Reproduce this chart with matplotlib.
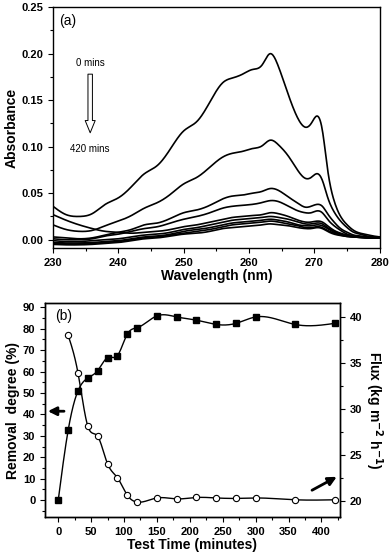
import matplotlib
matplotlib.use("Agg")
import matplotlib.pyplot as plt
import numpy as np
from matplotlib.patches import FancyArrowPatch
from matplotlib.ticker import MultipleLocator

plt.rcParams['font.family'] = ['Liberation Sans', 'DejaVu Sans']
plt.rcParams['font.weight'] = 'bold'
plt.rcParams['mathtext.default'] = 'bf'

# ---- panel (a): UV spectra, 0 -> 420 mins ----
wavelength = [230, 232, 234, 236, 238, 240, 242, 244, 246, 248, 250, 252, 254, 256, 257.5,
              259, 260.5, 262, 263.2, 264.5, 266, 267.5, 268.6, 269.5, 270.4, 271.2, 272,
              273, 274, 275, 276, 277, 278, 279, 280]

abs_a = [.036, .027, .025, .028, .038, .045, .057, .071, .080, .098, .117, .127, .148, .169, .174,
         .178, .183, .188, .200, .186, .156, .130, .121, .125, .133, .118, .076,
         .042, .025, .016, .010, .007, .0055, .004, .003]
abs_b = [.016, .011, .009, .010, .015, .020, .026, .034, .040, .049, .060, .067, .078, .089, .093,
         .095, .098, .101, .107, .102, .090, .074, .066, .067, .071, .064, .046,
         .030, .020, .013, .008, .006, .004, .003, .0025]
abs_c = [.003, .002, .001, .002, .005, .008, .011, .016, .018, .023, .029, .032, .037, .044, .047,
         .048, .050, .052, .055, .053, .046, .039, .035, .036, .038, .036, .028,
         .019, .012, .008, .005, .004, .003, .0025, .002]
abs_d = [.001, .000, .000, .001, .004, .006, .009, .012, .014, .018, .022, .025, .029, .034, .036,
         .037, .038, .040, .042, .041, .036, .031, .029, .029, .031, .029, .022,
         .015, .010, .006, .004, .003, .0025, .002, .002]
abs_e = [.027, .021, .016, .012, .009, .008, .007, .008, .009, .011, .014, .016, .019, .022, .024,
         .025, .026, .027, .029, .028, .025, .021, .019, .019, .020, .019, .015,
         .010, .007, .005, .004, .003, .0025, .002, .002]
abs_f = [-.001, -.002, -.002, -.001, .000, .001, .003, .005, .006, .008, .011, .013, .016, .019, .021,
         .022, .023, .024, .025, .024, .022, .019, .017, .017, .018, .017, .013,
         .009, .006, .0045, .0035, .003, .0025, .002, .002]
abs_g = [-.003, -.0035, -.0035, -.003, -.002, -.001, .001, .003, .004, .006, .009, .011, .013, .016, .018,
         .019, .020, .021, .022, .021, .019, .016, .015, .015, .016, .015, .012,
         .008, .0055, .004, .003, .0025, .002, .002, .002]
abs_h = [-.004, -.0045, -.0045, -.004, -.003, -.002, .000, .002, .003, .005, .007, .009, .011, .014, .016,
         .017, .018, .019, .020, .019, .017, .015, .013, .013, .014, .013, .010,
         .007, .005, .0035, .003, .0025, .002, .002, .002]
abs_i = [-.005, -.0055, -.0055, -.005, -.004, -.003, -.001, .001, .002, .004, .006, .007, .009, .012, .013,
         .014, .015, .016, .017, .016, .015, .013, .012, .012, .013, .012, .009,
         .006, .0045, .0035, .003, .0025, .002, .002, .002]

# ---- panel (b): removal degree and flux vs time ----
time_min = [0, 15, 30, 45, 60, 75, 90, 105, 120, 150, 180, 210, 240, 270, 300, 360, 420]
removal = [0, 32.5, 51, 57, 60.5, 66.5, 67.5, 77.5, 80.5, 86, 85.5, 84, 82, 82.5, 85.5, 82, 82.5]
flux_time = [15, 30, 45, 60, 75, 90, 105, 120, 150, 180, 210, 240, 270, 300, 360, 420]
flux = [38.0, 33.9, 28.1, 27.0, 24.0, 22.5, 20.6, 19.85, 20.3, 20.2, 20.35, 20.3, 20.25, 20.3, 20.1, 20.1]


def spline(x, y, n=500):
    # natural cubic spline, only used to draw a smooth line through the points
    x = np.asarray(x, float)
    y = np.asarray(y, float)
    h = np.diff(x)
    m = len(x)
    A = np.zeros((m, m))
    r = np.zeros(m)
    A[0, 0] = A[-1, -1] = 1
    for i in range(1, m - 1):
        A[i, i - 1] = h[i - 1]
        A[i, i] = 2 * (h[i - 1] + h[i])
        A[i, i + 1] = h[i]
        r[i] = 3 * ((y[i + 1] - y[i]) / h[i] - (y[i] - y[i - 1]) / h[i - 1])
    c = np.linalg.solve(A, r)
    b = (y[1:] - y[:-1]) / h - h * (2 * c[:-1] + c[1:]) / 3
    d = (c[1:] - c[:-1]) / (3 * h)
    xs = np.linspace(x[0], x[-1], n)
    idx = np.clip(np.searchsorted(x, xs) - 1, 0, m - 2)
    dx = xs - x[idx]
    return xs, y[idx] + b[idx] * dx + c[idx] * dx ** 2 + d[idx] * dx ** 3


fig = plt.figure(figsize=(3.92, 5.55), dpi=100)

# top panel
ax1 = fig.add_axes([0.135, 0.553, 0.834, 0.434])
for curve in [abs_a, abs_b, abs_c, abs_d, abs_e, abs_f, abs_g, abs_h, abs_i]:
    xs, ys = spline(wavelength, curve)
    ax1.plot(xs, ys, color="black", lw=1.2)
ax1.set_xlim(230, 280)
ax1.set_ylim(-0.009, 0.25)
ax1.xaxis.set_major_locator(MultipleLocator(10))
ax1.xaxis.set_minor_locator(MultipleLocator(5))
ax1.yaxis.set_major_locator(MultipleLocator(0.05))
ax1.yaxis.set_minor_locator(MultipleLocator(0.025))
ax1.yaxis.set_major_formatter(matplotlib.ticker.FormatStrFormatter("%.2f"))
ax1.set_xlabel("Wavelength (nm)", fontsize=10, fontweight="bold", labelpad=1)
ax1.set_ylabel("Absorbance", fontsize=10, fontweight="bold", labelpad=2)
ax1.text(231.0, 0.243, "(a)", fontsize=10, va="top", fontweight="normal")
ax1.text(235.7, 0.19, "0 mins", fontsize=7, ha="center", va="center", fontweight="normal")
ax1.text(235.7, 0.098, "420 mins", fontsize=7, ha="center", va="center", fontweight="normal")
ax1.add_patch(FancyArrowPatch((235.7, 0.181), (235.7, 0.112),
                              arrowstyle="simple,head_width=0.9,head_length=1.1,tail_width=0.4",
                              mutation_scale=8, facecolor="white", edgecolor="black", lw=0.7))

# bottom panel
ax2 = fig.add_axes([0.115, 0.068, 0.752, 0.386])
ax3 = ax2.twinx()
xs, ys = spline(time_min, removal)
ax2.plot(xs, ys, color="black", lw=1.0)
ax2.plot(time_min, removal, "s", color="black", ms=4.5)
xs, ys = spline(flux_time, flux)
ax3.plot(xs, ys, color="black", lw=1.0)
ax3.plot(flux_time, flux, "o", mfc="white", mec="black", ms=4.5, mew=0.8)
ax2.set_xlim(-20, 428)
ax2.set_ylim(-8, 92)
ax3.set_ylim(18.2, 41.5)
ax2.xaxis.set_major_locator(MultipleLocator(50))
ax2.xaxis.set_minor_locator(MultipleLocator(25))
ax2.yaxis.set_major_locator(MultipleLocator(10))
ax2.yaxis.set_minor_locator(MultipleLocator(5))
ax3.yaxis.set_major_locator(MultipleLocator(5))
ax3.yaxis.set_minor_locator(MultipleLocator(2.5))
ax2.set_xlabel("Test Time (minutes)", fontsize=10, fontweight="bold", labelpad=1)
ax2.set_ylabel("Removal  degree (%)", fontsize=10, fontweight="bold", labelpad=2)
ax3.set_ylabel("Flux (kg m$^{-2}$ h$^{-1}$)", fontsize=10, fontweight="bold",
               rotation=270, labelpad=16)
ax2.text(-5, 86, "(b)", fontsize=10, va="center", fontweight="normal")
ax2.annotate("", xy=(-20, 41.5), xytext=(13, 41.5),
             arrowprops=dict(arrowstyle="-|>,head_width=0.25,head_length=0.5", color="black", lw=2))
ax2.annotate("", xy=(427, 11.5), xytext=(382, 4),
             arrowprops=dict(arrowstyle="-|>,head_width=0.25,head_length=0.5", color="black", lw=2))

for ax in [ax1, ax2, ax3]:
    ax.tick_params(which="both", direction="out", labelsize=8, width=0.8)
    ax.tick_params(which="major", length=3.5)
    ax.tick_params(which="minor", length=2)
    for s in ax.spines.values():
        s.set_linewidth(1.0)
    for lab in ax.get_xticklabels() + ax.get_yticklabels():
        lab.set_fontweight("bold")
ax1.tick_params(top=False, right=False)

fig.savefig("out.png", dpi=100)
